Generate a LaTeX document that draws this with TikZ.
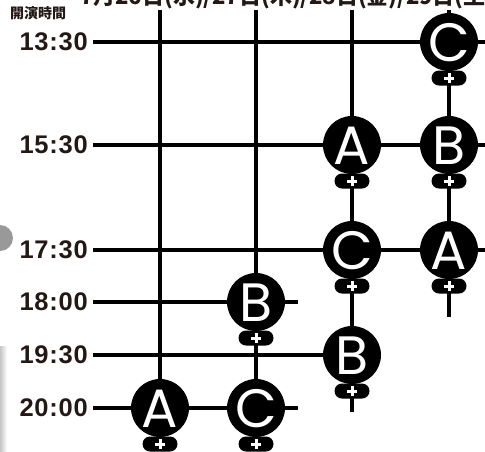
\documentclass[tikz,border=0pt]{standalone}
\usepackage{fontspec}
\setmainfont{Liberation Sans}
\newfontfamily\timef{Liberation Sans}[LetterSpace=3]
\newfontfamily\cjkf{Noto Sans CJK JP}
\newfontfamily\letf{Poppins}
\usetikzlibrary{shapes.misc,backgrounds}
\definecolor{ink}{HTML}{231815}
\begin{document}
\begin{tikzpicture}[x=1pt,y=-1pt,
  gridline/.style={line width=3.5pt, black},
  timelbl/.style={font=\timef\bfseries\fontsize{25.5}{25.5}\selectfont, anchor=east, inner sep=0pt, text=ink},
  slot/.style={circle, fill=black, minimum size=58pt, inner sep=0pt, text=white,
    font=\letf\fontsize{54}{54}\selectfont, text height=38pt, text depth=0pt},
  pill/.style={rounded rectangle, fill=black, minimum width=35pt, minimum height=15pt, inner sep=0pt,
    path picture={
      \draw[white,line width=3pt] ([xshift=-5pt]path picture bounding box.center) -- ([xshift=5pt]path picture bounding box.center);
      \draw[white,line width=3pt] ([yshift=-5pt]path picture bounding box.center) -- ([yshift=5pt]path picture bounding box.center);}},
]
\useasboundingbox (0,0) rectangle (485,451);

% decorative grey shapes at the left edge
\fill[gray!80] (0,238) circle (13);
\shade[left color=gray!45, right color=white] (0,346) rectangle (7,451);

% top (cropped) date line and header
\node[font=\cjkf\bfseries\fontsize{22}{22}\selectfont, anchor=base west, inner sep=0pt, text=ink] (dates) at (80,4) {7月26日(水)/27日(木)/28日(金)/29日(土)};
\node[font=\cjkf\bfseries\fontsize{14}{14}\selectfont, anchor=west, inner sep=0pt, text=ink] (hdr) at (10,13) {開演時間};

% time labels
\node[timelbl] (t1330) at (88,42) {13:30};
\node[timelbl] (t1530) at (88,145) {15:30};
\node[timelbl] (t1730) at (88,250) {17:30};
\node[timelbl] (t1800) at (88,302) {18:00};
\node[timelbl] (t1930) at (88,355) {19:30};
\node[timelbl] (t2000) at (88,408) {20:00};

% performance slots
\node[slot] (C13) at (449,42) {C};
\node[slot] (A15) at (352,145) {A};
\node[slot] (B15) at (449,145) {B};
\node[slot] (C17) at (352,250) {C};
\node[slot] (A17) at (449,250) {A};
\node[slot] (B18) at (256,302) {B};
\node[slot] (B19) at (352,355) {B};
\node[slot] (A20) at (160,408) {A};
\node[slot] (C20) at (256,408) {C};

% plus pills
\foreach \n in {C13,A15,B15,C17,A17,B18,B19,A20,C20}{
  \node[pill] (p\n) at ([yshift=-36pt]\n.center) {};
}

% line end coordinates
\coordinate (v1top) at (160,10);
\coordinate (v2top) at (256,10);
\coordinate (v3top) at (352,10);
\coordinate (v4top) at (449,10);
\coordinate (v3bot) at (352,412);
\coordinate (v4bot) at (449,317);
\coordinate (r1330) at (485,42);
\coordinate (r1530) at (485,145);
\coordinate (r1730) at (485,250);
\coordinate (r1800) at (298,302);
\coordinate (r2000) at (298,408);

\begin{pgfonlayer}{background}
  \draw[gridline] (v1top) -- (A20.center);
  \draw[gridline] (v2top) -- (C20.center);
  \draw[gridline] (v3top) -- (v3bot);
  \draw[gridline] (v4top) -- (v4bot);
  \draw[gridline] ([xshift=5pt]t1330.east) -- (r1330);
  \draw[gridline] ([xshift=5pt]t1530.east) -- (r1530);
  \draw[gridline] ([xshift=5pt]t1730.east) -- (r1730);
  \draw[gridline] ([xshift=5pt]t1800.east) -- (r1800);
  \draw[gridline] ([xshift=5pt]t1930.east) -- (B19.center);
  \draw[gridline] ([xshift=5pt]t2000.east) -- (r2000);
\end{pgfonlayer}
\end{tikzpicture}
\end{document}
